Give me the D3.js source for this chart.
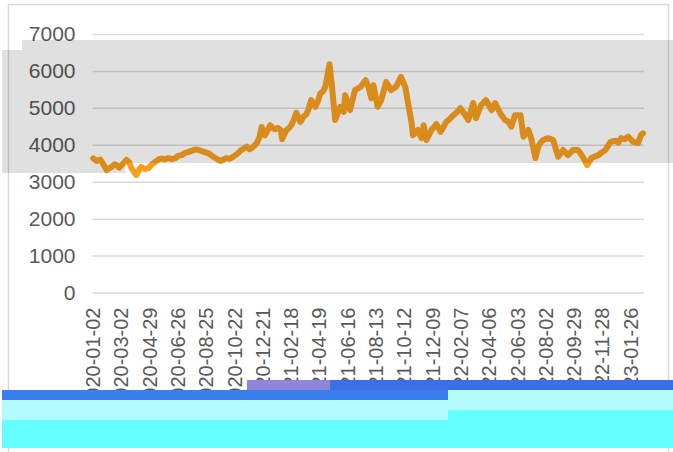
<!DOCTYPE html>
<html>
<head>
<meta charset="utf-8">
<script src="https://cdn.jsdelivr.net/npm/d3@7"></script>
<style>
  body { margin: 0; background: #fff; }
  svg { display: block; font-family: "Liberation Sans", Arial, sans-serif; }
</style>
</head>
<body>
<div id="chart"></div>
<script>
const width = 673,
  height = 452,
  margin = { top: 34, left: 92.5, right: 29, zero: 292.5 }

// trading day number (0 = 2020-01-02) and closing level
const dayIdx = [1, 6, 11, 15, 20, 24, 27, 31, 34, 38, 41, 45, 48, 52, 55, 59, 62, 66, 69, 74, 79, 84, 89, 93, 97, 102, 107, 112, 117, 121, 126, 131, 136, 141, 145, 150, 154, 159, 164,
  169, 174, 181, 189, 194, 199, 205, 210, 214, 218, 222, 225, 229, 232, 236, 239, 244, 251, 255, 258, 262, 266, 268, 274, 278, 281, 285, 288, 294, 298, 302, 305,
  309, 315, 318, 322, 326, 329, 335, 338, 343, 350, 355, 357, 364, 371, 379, 386, 390, 394, 397, 403, 408, 415,
  422, 429, 436, 442, 446, 451, 453, 460, 465, 468, 472, 479, 486, 492, 500, 505, 510, 515, 520, 527, 531, 538,
  542, 549, 556, 564, 569, 576, 583, 588, 592, 597, 605, 609, 616, 620, 626, 630, 634, 639, 644, 651, 658,
  665, 672, 679, 686, 690, 694, 699, 705, 710, 715, 720, 725, 732, 739, 743, 747, 752, 757, 764, 771, 775, 778]
const closeVals = [3630, 3560, 3600, 3480, 3315, 3370, 3400, 3470, 3450, 3380, 3450, 3520, 3590, 3520, 3370, 3260, 3180, 3330, 3400, 3340, 3370, 3470, 3540, 3600, 3630, 3600, 3640, 3610, 3640, 3700, 3720, 3780, 3810, 3840, 3875, 3860, 3830, 3800, 3770,
  3700, 3630, 3560, 3640, 3620, 3680, 3760, 3855, 3900, 3950, 3880, 3910, 3980, 4045, 4200, 4480, 4260, 4530, 4450, 4420, 4460, 4400, 4150, 4400, 4460, 4530, 4700, 4865, 4620, 4760, 4820, 4940,
  5210, 5030, 5150, 5390, 5450, 5570, 6180, 5670, 4670, 5030, 4890, 5340, 4940, 5480, 5570, 5750, 5570, 5260, 5610, 5030, 5210, 5700,
  5480, 5570, 5840, 5570, 5130, 4590, 4260, 4400, 4180, 4530, 4130, 4400, 4560, 4350, 4620, 4700, 4800, 4880, 4990, 4800, 4670, 5130,
  4720, 5070, 5210, 4940, 5130, 4860, 4670, 4620, 4490, 4800, 4800, 4220, 4400, 4180, 3640, 3950, 4080, 4150, 4180, 4130, 3680,
  3860, 3720, 3860, 3860, 3760, 3640, 3450, 3640, 3680, 3720, 3800, 3860, 4080, 4110, 4060, 4180, 4150, 4220, 4080, 4045, 4260, 4310]

const tickDates = ["2020-01-02", "2020-03-02", "2020-04-29", "2020-06-26", "2020-08-25", "2020-10-22",
  "2020-12-21", "2021-02-18", "2021-04-19", "2021-06-16", "2021-08-13", "2021-10-12", "2021-12-09",
  "2022-02-07", "2022-04-06", "2022-06-03", "2022-08-02", "2022-09-29", "2022-11-28", "2023-01-26"]
const tickEvery = 40
const yTicks = [0, 1000, 2000, 3000, 4000, 5000, 6000, 7000]

const series = dayIdx.map((d, i) => ({ day: d, value: closeVals[i] }))

const svg = d3.select("#chart").append("svg")
  .attr("width", width)
  .attr("height", height)

const x = d3.scaleLinear()
  .domain([0, 778])
  .range([margin.left, width - margin.right - 1])

const y = d3.scaleLinear()
  .domain([0, 7000])
  .range([margin.zero, margin.top])

// outer chart border
svg.append("rect")
  .attr("x", 8.5).attr("y", 4.5)
  .attr("width", 660).attr("height", 520)
  .attr("fill", "none")
  .attr("stroke", "#d9d9d9")
  .attr("stroke-width", 1.5)

// y axis with gridlines
const yAxis = svg.append("g")
  .attr("transform", `translate(${margin.left},0)`)
  .call(d3.axisLeft(y)
    .tickValues(yTicks)
    .tickFormat(d3.format("d"))
    .tickSize(-(width - margin.right - margin.left))
    .tickPadding(17))
yAxis.select(".domain").remove()
yAxis.selectAll(".tick line")
  .attr("stroke", "#d9d9d9")
  .attr("stroke-width", 1.5)
yAxis.selectAll(".tick text")
  .attr("fill", "#595959")
  .style("font-size", "21px")
  .style("font-family", "Liberation Sans, Arial, sans-serif")

// x axis, every 40th trading day, labels turned upright
const xAxis = svg.append("g")
  .attr("transform", `translate(0,${margin.zero})`)
  .call(d3.axisBottom(x)
    .tickValues(tickDates.map((d, i) => i * tickEvery))
    .tickFormat((d, i) => tickDates[i])
    .tickSize(0))
xAxis.select(".domain").remove()
xAxis.selectAll(".tick text")
  .attr("fill", "#595959")
  .style("font-size", "20px")
  .style("font-family", "Liberation Sans, Arial, sans-serif")
  .attr("text-anchor", "end")
  .attr("transform", "rotate(-90)")
  .attr("x", -15)
  .attr("y", 0)
  .attr("dy", "0.35em")

// price line
const line = d3.line()
  .x(d => x(d.day))
  .y(d => y(d.value))

svg.append("path")
  .datum(series)
  .attr("d", line)
  .attr("fill", "none")
  .attr("stroke", "#f7a01f")
  .attr("stroke-width", 6)
  .attr("stroke-linejoin", "round")
  .attr("stroke-linecap", "round")

// grey shaded bands laid over the plot
const shade = svg.append("g").attr("fill", "#000").attr("fill-opacity", 0.12)
shade.append("rect").attr("x", 22).attr("y", 40).attr("width", 651).attr("height", 123)
shade.append("rect").attr("x", 2).attr("y", 50).attr("width", 20).attr("height", 123)
shade.append("rect").attr("x", 22).attr("y", 163).attr("width", 103).attr("height", 10)

// coloured strips across the bottom of the picture
const strips = [
  { x: 247, y: 380, w: 83, h: 10, c: "#8f86dc" },
  { x: 330, y: 380, w: 343, h: 10, c: "#3c6ee8" },
  { x: 2, y: 390, w: 491, h: 10, c: "#3a7ff0" },
  { x: 2, y: 400, w: 446, h: 20, c: "#b4fbff" },
  { x: 448, y: 390, w: 225, h: 20, c: "#b4fbff" },
  { x: 2, y: 420, w: 446, h: 28, c: "#66ffff" },
  { x: 448, y: 410, w: 225, h: 38, c: "#66ffff" }
]
svg.append("g").selectAll("rect")
  .data(strips)
  .join("rect")
  .attr("x", d => d.x).attr("y", d => d.y)
  .attr("width", d => d.w).attr("height", d => d.h)
  .attr("fill", d => d.c)
</script>
</body>
</html>
